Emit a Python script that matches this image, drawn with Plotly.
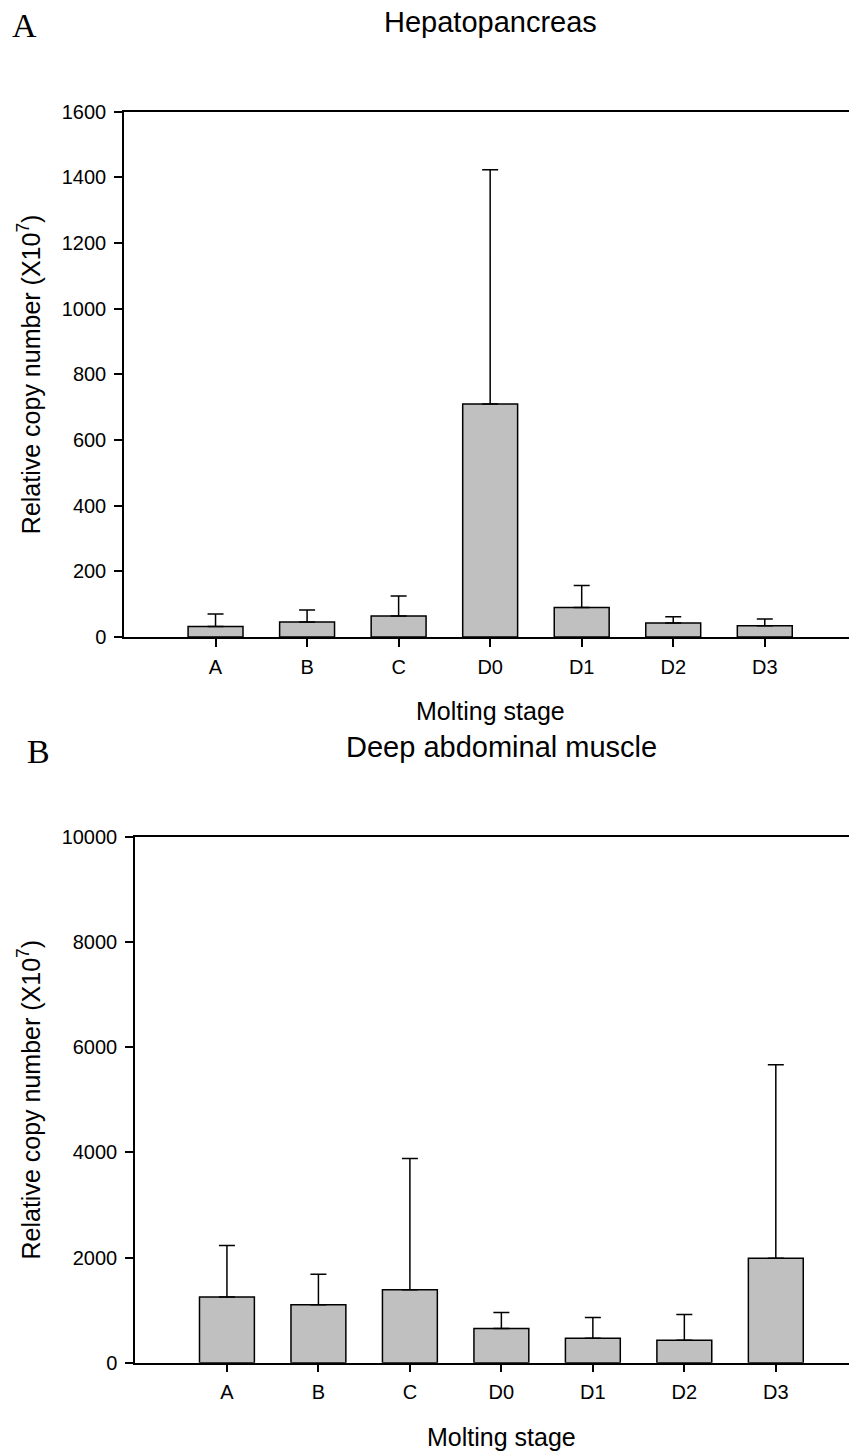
import plotly.graph_objects as go

stages = ["A", "B", "C", "D0", "D1", "D2", "D3"]

hep_mean = [32, 46, 64, 710, 90, 43, 34]
hep_err = [38, 36, 61, 713, 67, 19, 21]

mus_mean = [1250, 1100, 1385, 650, 465, 425, 1985]
mus_err = [980, 580, 2495, 305, 395, 490, 3680]

hep_ticks = [0, 200, 400, 600, 800, 1000, 1200, 1400, 1600]
mus_ticks = [0, 2000, 4000, 6000, 8000, 10000]

W, H = 849, 1452
FONT = "Liberation Sans, Arial, sans-serif"
SERIF = "Liberation Serif, Times New Roman, serif"

fig = go.Figure()

def bar(x, y, err, xa, ya):
    return go.Bar(
        x=x, y=y, xaxis=xa, yaxis=ya, width=0.6,
        marker=dict(color="#C0C0C0", line=dict(color="black", width=1.5)),
        error_y=dict(type="data", array=err, arrayminus=[0] * len(err),
                     symmetric=False, color="black", thickness=1.5, width=8),
        showlegend=False,
    )

fig.add_trace(bar(stages, hep_mean, hep_err, "x", "y"))
fig.add_trace(bar(stages, mus_mean, mus_err, "x2", "y2"))

def px_x(p):
    return p / W

def px_y(p):
    return 1 - p / H

axis_common = dict(
    showline=True, linecolor="black", linewidth=1.5,
    ticks="outside", ticklen=8, tickwidth=1.5, tickcolor="black",
    showgrid=False, zeroline=False, automargin=False,
    tickfont=dict(family=FONT, size=20, color="black"),
)

ytitle = dict(text="Relative copy number (X10<sup>7</sup>)",
              font=dict(family=FONT, size=25, color="black"))

fig.update_layout(
    width=W, height=H,
    margin=dict(l=0, r=0, t=0, b=0, autoexpand=False),
    paper_bgcolor="white", plot_bgcolor="white",
    bargap=0.4,
    xaxis=dict(axis_common, domain=[px_x(124), 1], anchor="y", mirror=True,
               type="category", range=[-1.0, 6.92], ticklabelstandoff=3),
    yaxis=dict(axis_common, domain=[px_y(637), px_y(111.7)], anchor="x",
               range=[0, 1600], tickvals=hep_ticks, tickformat="d", ticklabelstandoff=4,
               title=dict(ytitle, standoff=14)),
    xaxis2=dict(axis_common, domain=[px_x(135), 1], anchor="y2", mirror=True,
                type="category", range=[-1.005, 6.8], ticklabelstandoff=3),
    yaxis2=dict(axis_common, domain=[px_y(1362.7), px_y(836.7)], anchor="x2",
                range=[0, 10000], tickvals=mus_ticks, tickformat="d", ticklabelstandoff=4,
                title=dict(ytitle, standoff=14)),
)

annots = [
    dict(text="Hepatopancreas", x=px_x(490.5), y=px_y(22), font=dict(family=FONT, size=29, color="black")),
    dict(text="Deep abdominal muscle", x=px_x(501.5), y=px_y(747), font=dict(family=FONT, size=29, color="black")),
    dict(text="Molting stage", x=px_x(490), y=px_y(711), font=dict(family=FONT, size=25, color="black")),
    dict(text="Molting stage", x=px_x(501), y=px_y(1437), font=dict(family=FONT, size=25, color="black")),
    dict(text="A", x=px_x(24), y=px_y(25), font=dict(family=SERIF, size=34, color="black")),
    dict(text="B", x=px_x(38), y=px_y(751), font=dict(family=SERIF, size=34, color="black")),
]
for a in annots:
    fig.add_annotation(xref="paper", yref="paper", showarrow=False,
                       xanchor="center", yanchor="middle", **a)

fig.write_html(
    "out.html",
    config={"displayModeBar": False},
    post_script="document.body.style.margin='0px';document.body.style.overflow='hidden';",
)
